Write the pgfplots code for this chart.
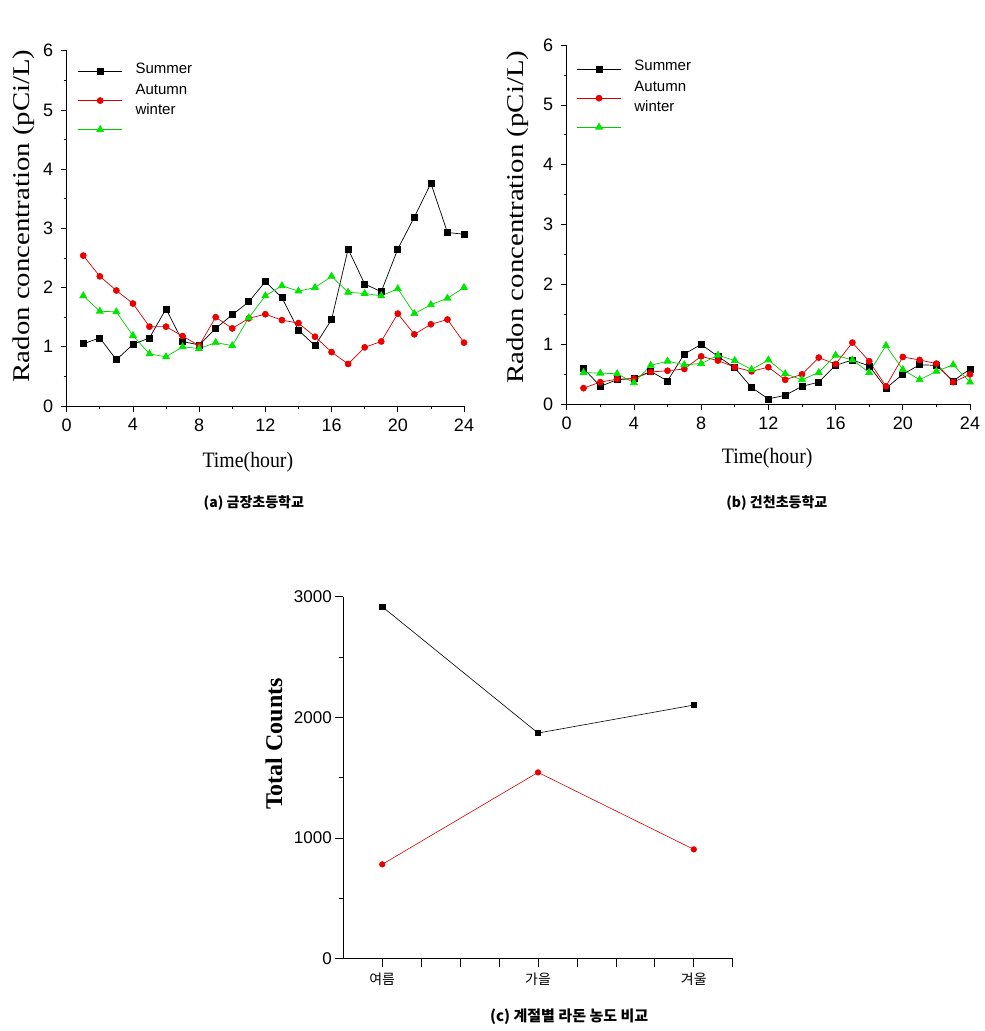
\documentclass[border=0pt]{standalone}
\usepackage{fontspec}
\setmainfont{Liberation Sans}
\newfontfamily\serif{Liberation Serif}
\newfontfamily\kr{Noto Sans CJK KR}
\usepackage{pgfplots}
\pgfplotsset{compat=1.18}

\definecolor{mred}{RGB}{235,0,0}
\definecolor{lred}{RGB}{210,0,0}
\definecolor{mgreen}{RGB}{0,230,0}
\definecolor{lgreen}{RGB}{0,205,0}

\pgfplotstableread{
h  su   au   wi
1  1.05 2.54 1.86
2  1.15 2.19 1.60
3  0.78 1.95 1.59
4  1.04 1.73 1.19
5  1.15 1.34 0.88
6  1.64 1.34 0.83
7  1.09 1.18 1.00
8  1.03 1.02 0.97
9  1.31 1.50 1.07
10 1.54 1.31 1.02
11 1.76 1.48 1.49
12 2.10 1.55 1.86
13 1.83 1.45 2.03
14 1.28 1.40 1.94
15 1.02 1.17 2.00
16 1.46 0.91 2.19
17 2.65 0.71 1.92
18 2.06 0.99 1.90
19 1.93 1.09 1.86
20 2.65 1.56 1.98
21 3.19 1.21 1.56
22 3.76 1.38 1.71
23 2.93 1.46 1.82
24 2.90 1.07 2.00
}\tabA

\pgfplotstableread{
h  su   au   wi
1  0.60 0.27 0.53
2  0.30 0.37 0.52
3  0.41 0.42 0.51
4  0.43 0.43 0.36
5  0.55 0.54 0.65
6  0.39 0.56 0.72
7  0.84 0.59 0.66
8  1.00 0.80 0.68
9  0.80 0.73 0.82
10 0.61 0.62 0.73
11 0.28 0.55 0.58
12 0.09 0.62 0.74
13 0.15 0.41 0.51
14 0.30 0.50 0.41
15 0.37 0.78 0.53
16 0.65 0.67 0.82
17 0.74 1.03 0.74
18 0.64 0.72 0.53
19 0.27 0.30 0.98
20 0.50 0.79 0.58
21 0.66 0.74 0.41
22 0.65 0.68 0.55
23 0.39 0.37 0.66
24 0.59 0.50 0.37
}\tabB

\pgfplotstableread{
x  su   au
1  2917 782
2  1870 1544
3  2102 906
}\tabC

\pgfplotsset{
  base/.style={scale only axis, axis lines=left,
    axis line style={-, line width=0.8pt},
    tick style={black, line width=0.7pt}, tick align=outside,
    major tick length=6pt, minor tick length=3pt,
    /pgf/number format/assume math mode=true,
    /pgf/number format/1000 sep={},
    tick label style={font=\fontsize{18}{18}\selectfont},
    clip=false},
  hourly/.style={base, xmin=0, xmax=24, ymin=0, ymax=6,
    xtick={0,4,...,24}, minor x tick num=1,
    ytick={0,1,...,6}, minor y tick num=1,
    yticklabel style={xshift=-4pt},
    xticklabel style={yshift=-3pt},
    ylabel={\serif\fontsize{24}{24}\selectfont\scalebox{1.2}[1]{Radon concentration (pCi/L)}},
    xlabel={\serif\fontsize{22}{22}\selectfont\scalebox{0.9}[1]{Time(hour)}},
    legend image code/.code={\draw[mark repeat=2,mark phase=2,#1] plot coordinates {(0pt,0pt) (22pt,0pt) (44pt,0pt)};},
    legend style={draw=none, fill=none, inner sep=0pt, outer sep=0pt,
      font=\fontsize{15}{15}\selectfont, row sep=0pt,
      nodes={inner sep=0pt, minimum height=29pt},
      /tikz/every odd column/.append style={column sep=13pt}},
    legend cell align=left},
  sA/.style={black, line width=0.7pt, mark=square*, mark size=3pt, mark options={solid, fill=black}},
  aA/.style={lred, line width=0.7pt, mark=*, mark size=3pt, mark options={solid, draw=mred, fill=mred}},
  wA/.style={lgreen, line width=0.7pt, mark=triangle*, mark size=4pt, mark options={solid, draw=mgreen, fill=mgreen}},
}

\begin{document}
\begin{tikzpicture}
\useasboundingbox (0,0) rectangle (985pt,1031pt);

% (a)
\begin{axis}[hourly, at={(66.7pt,625pt)}, anchor=south west,
  width=397.3pt, height=355.3pt,
  xlabel style={at={(axis description cs:0.456,-0.158)}, anchor=center},
  ylabel style={at={(axis description cs:-0.1075,0.535)}, anchor=center},
  legend style={at={(axis description cs:0.028,0.982)}, anchor=north west}]
\addplot[sA] table[x=h,y=su]{\tabA};
\addlegendentry{\raisebox{-2.5pt}[0pt][0pt]{Summer}}
\addplot[aA] table[x=h,y=au]{\tabA};
\addlegendentry{\raisebox{5.5pt}[0pt][0pt]{Autumn}}
\addplot[wA] table[x=h,y=wi]{\tabA};
\addlegendentry{\raisebox{14.5pt}[0pt][0pt]{winter}}
\node[font=\kr\bfseries\fontsize{14}{14}\selectfont] at (axis description cs:0.471,-0.273) {(a) 금장초등학교};
\end{axis}

% (b)
\begin{axis}[hourly, at={(566.7pt,626.7pt)}, anchor=south west,
  width=403.3pt, height=359.3pt,
  xlabel style={at={(axis description cs:0.497,-0.149)}, anchor=center},
  ylabel style={at={(axis description cs:-0.121,0.521)}, anchor=center},
  legend style={at={(axis description cs:0.0248,0.973)}, anchor=north west}]
\addplot[sA] table[x=h,y=su]{\tabB};
\addlegendentry{\raisebox{-2.5pt}[0pt][0pt]{Summer}}
\addplot[aA] table[x=h,y=au]{\tabB};
\addlegendentry{\raisebox{5.5pt}[0pt][0pt]{Autumn}}
\addplot[wA] table[x=h,y=wi]{\tabB};
\addlegendentry{\raisebox{14.5pt}[0pt][0pt]{winter}}
\node[font=\kr\bfseries\fontsize{14}{14}\selectfont] at (axis description cs:0.521,-0.275) {(b) 건천초등학교};
\end{axis}

% (c)
\begin{axis}[base, at={(343.3pt,72.3pt)}, anchor=south west,
  width=389.4pt, height=362pt,
  xmin=0.75, xmax=3.25, ymin=0, ymax=3000,
  xtick={1,1.25,...,3.25}, xticklabels={여름,,,,가을,,,,겨울,},
  major tick length=8pt, minor tick length=4pt,
  xticklabel style={font=\kr\fontsize{14}{14}\selectfont, yshift=-3pt},
  ytick={0,1000,2000,3000}, minor y tick num=1,
  yticklabel style={font=\fontsize{17}{17}\selectfont},
  ylabel={\serif\bfseries\fontsize{24}{24}\selectfont Total Counts},
  ylabel style={at={(axis description cs:-0.178,0.593)}, anchor=center}]
\addplot[black, line width=0.6pt, mark=square*, mark size=2.6pt, mark options={solid, fill=black}] table[x=x,y=su]{\tabC};
\addplot[lred, line width=0.6pt, mark=*, mark size=2.8pt, mark options={solid, draw=mred, fill=mred}] table[x=x,y=au]{\tabC};
\node[font=\kr\bfseries\fontsize{15}{15}\selectfont] at (axis description cs:0.580,-0.161) {(c) 계절별 라돈 농도 비교};
\end{axis}
\end{tikzpicture}
\end{document}
